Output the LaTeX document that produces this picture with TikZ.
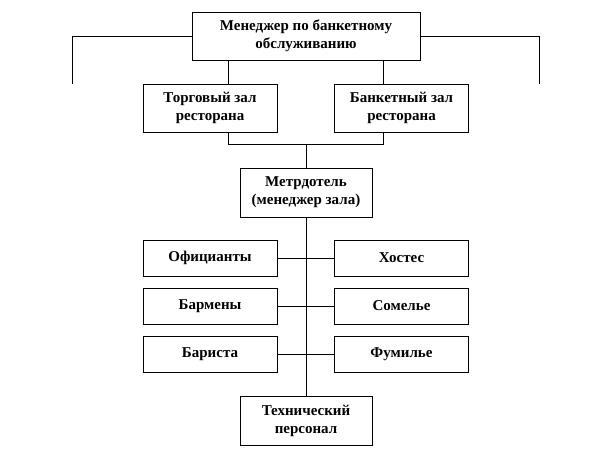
\documentclass[tikz,border=0pt]{standalone}
\usepackage{fontspec}
\setmainfont{Liberation Serif}
\usetikzlibrary{positioning}

\tikzset{
  post/.style={draw, line width=0.6pt, align=center, inner sep=2pt,
    font=\bfseries\fontsize{15}{18}\selectfont},
  wide/.style={post, minimum width=134pt, minimum height=48pt},
  staff/.style={post, minimum width=134pt, minimum height=36pt},
  link/.style={line width=0.6pt}
}

\begin{document}
\begin{tikzpicture}[x=1pt,y=-1pt]
\useasboundingbox (0,0) rectangle (612,468);
\node[post, minimum width=228pt, minimum height=48pt] (chief) at (306,36) {Менеджер по банкетному\\обслуживанию};
\node[wide] (trade) at (210,108) {Торговый зал\\ресторана};
\node[wide] (banquet) at (401.5,108) {Банкетный зал\\ресторана};
\node[wide, minimum width=132pt, minimum height=49pt] (maitre) at (306,192.5) {Метрдотель\\(менеджер зала)};
\node[staff] (waiters) at (210,258) {Официанты};
\node[staff] (hostess) at (401.5,258) {Хостес};
\node[staff] (barmen) at (210,306) {Бармены};
\node[staff] (sommelier) at (401.5,306) {Сомелье};
\node[staff] (barista) at (210,354) {Бариста};
\node[staff] (fumelier) at (401.5,354) {Фумилье};
\node[wide, minimum width=132pt, minimum height=49pt] (tech) at (306,420.5) {Технический\\персонал};
% branch points
\coordinate (lend) at (72,84);
\coordinate (rend) at (539,84);
\coordinate (ljoin) at (228,144);
\coordinate (rjoin) at (383,144);
\coordinate (mjoin) at (306,144);
\draw[link] (chief.west) -| (lend);
\draw[link] (chief.east) -| (rend);
\draw[link] (chief.south -| ljoin) -- (trade.north -| ljoin);
\draw[link] (chief.south -| rjoin) -- (banquet.north -| rjoin);
\draw[link] (trade.south -| ljoin) -- (ljoin) -- (rjoin) -- (banquet.south -| rjoin);
\draw[link] (mjoin) -- (maitre.north);
\draw[link] (maitre.south) -- (tech.north);
\draw[link] (waiters.east) -- (hostess.west);
\draw[link] (barmen.east) -- (sommelier.west);
\draw[link] (barista.east) -- (fumelier.west);
\end{tikzpicture}
\end{document}
